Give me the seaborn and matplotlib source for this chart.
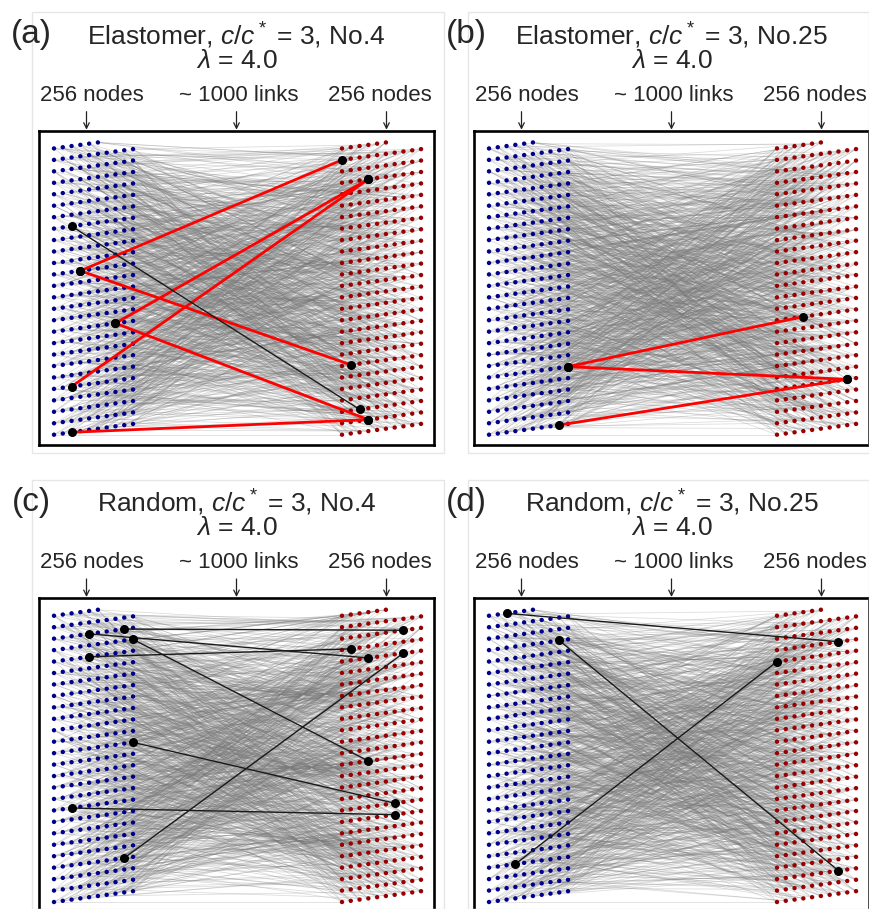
import numpy as np
import pandas as pd
import matplotlib.pyplot as plt
import seaborn as sns
from matplotlib.collections import LineCollection

sns.set_style("white")
plt.rcParams['font.family'] = ['Liberation Sans', 'DejaVu Sans']
plt.rcParams['mathtext.fontset'] = 'custom'
plt.rcParams['mathtext.rm'] = 'Liberation Sans'
plt.rcParams['mathtext.it'] = 'Liberation Sans:italic'

# ==========================================================
# Data
# ==========================================================

panel_tags = ['(a)', '(b)', '(c)', '(d)']
panel_kind = ['Elastomer', 'Elastomer', 'Random', 'Random']
panel_no = ['No.4', 'No.25', 'No.4', 'No.25']
conc = 3
stretch = 4.0
n_nodes = 256
links_per_node = 4
top_labels = ['256 nodes', '~ 1000 links', '256 nodes']

# highlighted links, as (left node index -> right node index)
a_left = [143, 143, 97, 97, 42, 2, 182]
a_right = [240, 61, 223, 13, 223, 13, 22]
a_color = ['red', 'red', 'red', 'red', 'red', 'red', 'black']

b_left = [59, 59, 8]
b_right = [103, 48, 48]
b_color = ['red', 'red', 'red']

c_left = [238, 234, 229, 214, 139, 82, 38]
c_right = [237, 213, 123, 221, 86, 76, 217]
c_color = ['black'] * 7

d_left = [252, 228, 33]
d_right = [227, 27, 210]
d_color = ['black'] * 3

highlight = [(a_left, a_right, a_color), (b_left, b_right, b_color),
             (c_left, c_right, c_color), (d_left, d_right, d_color)]

# background links cannot be read one by one: mixing multipliers per panel
mix = [[37, 101, 157, 213], [45, 117, 171, 229], [53, 85, 139, 197], [61, 109, 181, 245]]
shift = [0, 71, 143, 199]

# ==========================================================
# Layout (pixels)
# ==========================================================

W, H = 869, 909
box_left = [39, 474, 39, 474]
box_top = [130.7, 130.7, 598, 598]
box_w, box_h = 395, 314
dx, dy, rise = 8.78, 11.45, 1.2
per_row = 10
right_off = 288


def node_xy(idx, side):
    c = np.asarray(idx) % per_row
    r = np.asarray(idx) // per_row
    return 15 + c * dx + side * right_off, 10 + r * dy + c * rise


fig = plt.figure(figsize=(W / 100, H / 100), dpi=100)

# faint borders of the four sub-images
frames = [(32, 12, 444, 453), (468, 12, 869, 453), (32, 480, 444, 909), (468, 480, 869, 909)]
for x0, y0, x1, y1 in frames:
    fig.add_artist(plt.Rectangle((x0 / W, 1 - y1 / H), (x1 - x0) / W, (y1 - y0) / H,
                                 transform=fig.transFigure, fill=False,
                                 edgecolor='#e6e6e6', lw=1))

idx_all = np.arange(n_nodes)
lx, ly = node_xy(idx_all, 0)
rx, ry = node_xy(idx_all, 1)
nodes = pd.DataFrame({'x': np.concatenate([lx, rx]), 'y': np.concatenate([ly, ry]),
                      'side': ['left'] * n_nodes + ['right'] * n_nodes})

for p in range(4):
    L, T = box_left[p], box_top[p]
    ax = fig.add_axes([L / W, 1 - (T + box_h) / H, box_w / W, box_h / H])

    # background links
    segs = []
    for k in range(links_per_node):
        tgt = (idx_all * mix[p][k] + shift[k]) % n_nodes
        tx, ty = node_xy(tgt, 1)
        segs += [[(lx[i], ly[i]), (tx[i], ty[i])] for i in range(n_nodes)]
    ax.add_collection(LineCollection(segs, colors='#7a7a7a', linewidths=0.55, alpha=0.27, zorder=1))

    sns.scatterplot(data=nodes, x='x', y='y', hue='side',
                    palette={'left': '#00008b', 'right': '#990000'},
                    s=10, linewidth=0, legend=False, ax=ax, zorder=2)

    hl, hr, hc = highlight[p]
    hx0, hy0 = node_xy(hl, 0)
    hx1, hy1 = node_xy(hr, 1)
    for i in range(len(hl)):
        red = hc[i] == 'red'
        ax.plot([hx0[i], hx1[i]], [hy0[i], hy1[i]], color='#ff0000' if red else '#1a1a1a',
                lw=2.0 if red else 1.0, zorder=3)
    ax.scatter(np.concatenate([hx0, hx1]), np.concatenate([hy0, hy1]), s=30, color='black', zorder=4)

    ax.set_xlim(0, box_w)
    ax.set_ylim(0, box_h)
    ax.set_xticks([])
    ax.set_yticks([])
    ax.set_xlabel('')
    ax.set_ylabel('')
    for s in ax.spines.values():
        s.set_color('black')
        s.set_linewidth(1.9)

    # header texts
    cx = L + box_w / 2
    fig.text((L - 8) / W, 1 - (T - 96) / H, panel_tags[p], fontsize=24, ha='center', va='center')
    fig.text(cx / W, 1 - (T - 95) / H, panel_kind[p] + r', $c/c^*$ = ' + str(conc) + ', ' + panel_no[p],
             fontsize=19, ha='center', va='center')
    fig.text(cx / W, 1 - (T - 70) / H, r'$\lambda$ = ' + str(stretch), fontsize=19, ha='center', va='center')
    for off, lab in zip([-145, 2, 143], top_labels):
        fig.text((cx + off) / W, 1 - (T - 35) / H, lab, fontsize=16, ha='center', va='center')
    for off in [-150, 0, 150]:
        fig.add_artist(plt.Annotation('', xy=((cx + off) / W, 1 - (T - 1) / H),
                                      xytext=((cx + off) / W, 1 - (T - 19) / H),
                                      xycoords='figure fraction', textcoords='figure fraction',
                                      arrowprops=dict(arrowstyle='->', lw=0.9, color='#222222',
                                                      shrinkA=0, shrinkB=0)))

fig.savefig('out.png', dpi=100)
